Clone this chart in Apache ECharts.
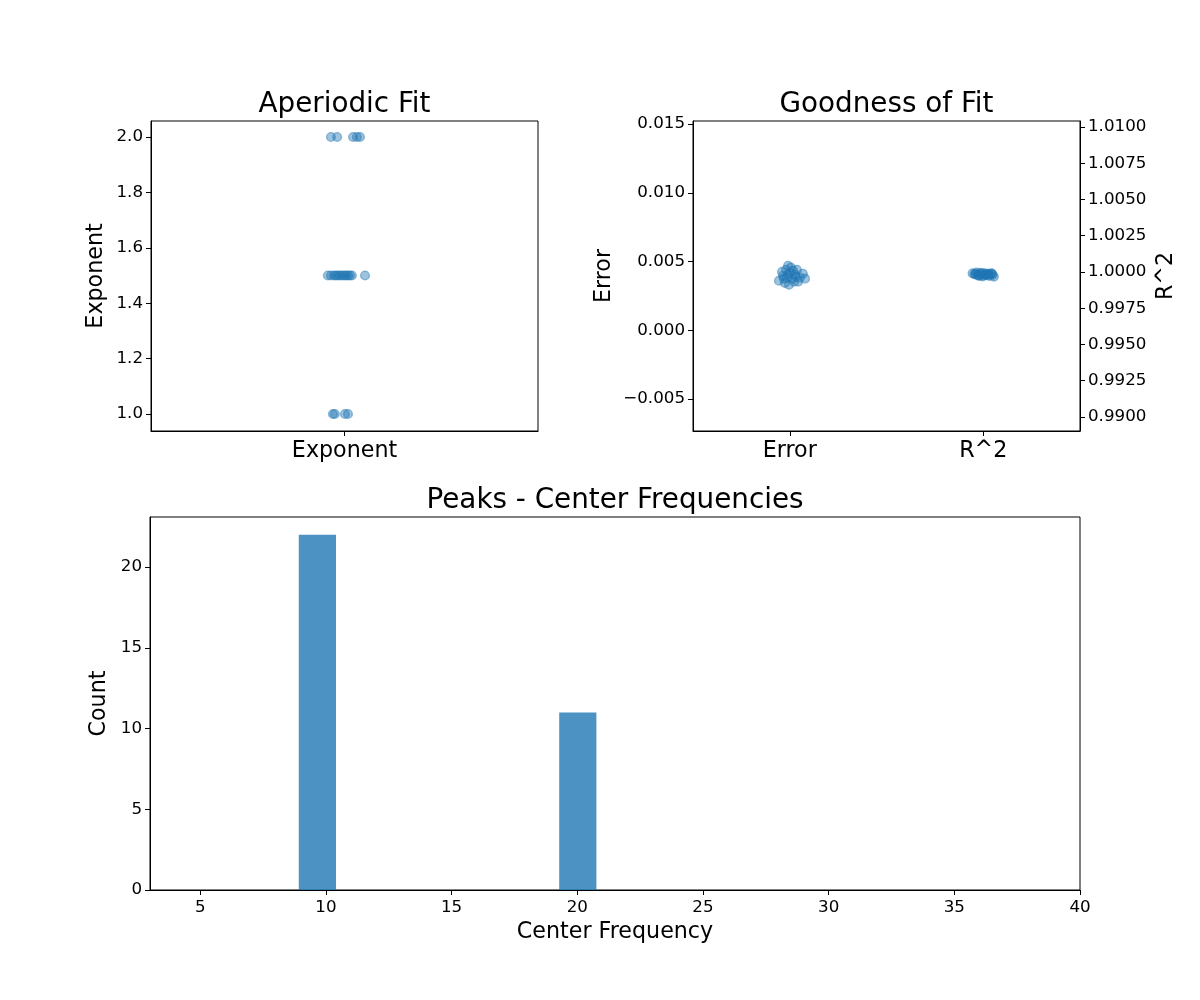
<!DOCTYPE html>
<html>
<head>
<meta charset="utf-8">
<script src="https://cdn.jsdelivr.net/npm/echarts@6/dist/echarts.min.js"></script>
<style>
html,body{margin:0;padding:0;background:#fff;}
#chart{width:1200px;height:1000px;}
</style>
</head>
<body>
<div id="chart"></div>
<script>
// ---- Data ----
// Aperiodic exponents per spectrum and horizontal jitter (category units)
const exponentValues = [2.0,2.0,2.0,2.0,2.0,
  1.5,1.5,1.5,1.5,1.5,1.5,1.5,1.5,1.5,1.5,1.5,1.5,1.5,
  1.0,1.0,1.0,1.0];
const exponentJitter = [-0.035,-0.019,0.022,0.032,0.040,
  -0.043,-0.035,-0.027,-0.022,-0.017,-0.012,-0.006,-0.001,0.004,0.009,0.014,0.019,0.053,
  -0.030,-0.025,0.001,0.009];

// Goodness of fit: error values and jitter
const errorValues = [0.00360,0.00396,0.00440,0.00469,0.00418,0.00375,0.00404,0.00440,0.00382,0.00411,0.00375,
  0.00345,0.00331,0.00382,0.00455,0.00353,0.00425,0.00353,0.00404,0.00433,0.00375,0.00389];
const errorJitter = [-0.056,-0.035,-0.019,-0.009,0.001,0.012,0.027,0.037,0.053,0.068,0.079,
  -0.025,-0.004,-0.014,0.006,0.022,-0.040,0.043,-0.009,0.017,-0.030,0.032];
// R^2 values and jitter
const r2Values = [0.99990,0.99985,0.99995,0.99980,0.99975,0.99988,0.99970,0.99992,0.99983,0.99978,0.99986,
  0.99972,0.99990,0.99980,0.99968,0.99985,0.99993,0.99977,0.99982,0.99988,0.99974,0.99987];
const r2Jitter = [-0.055,-0.045,-0.035,-0.028,-0.020,-0.012,-0.005,0.002,0.010,0.018,0.025,
  0.032,0.040,0.048,0.055,-0.040,-0.015,0.005,0.030,0.045,-0.025,0.015];

// Histogram of peak center frequencies (bin edges and counts)
const binStart = [8.92, 19.28];
const binEnd = [10.40, 20.76];
const binCounts = [22, 11];

// Tick labels
const expTicks = [1.0,1.2,1.4,1.6,1.8,2.0];
const errTicks = [-0.005,0.0,0.005,0.010,0.015];
const r2Ticks = [0.99,0.9925,0.995,0.9975,1.0,1.0025,1.005,1.0075,1.01];
const cfTicks = [5,10,15,20,25,30,35,40];
const countTicks = [0,5,10,15,20];
const gofCategories = ['Error','R^2'];

// ---- Chart ----
const FONT = 'DejaVu Sans';
const blue = 'rgba(31,119,180,0.55)';
const tickFont = 16.7, labFont = 22.2, titleFont = 27.8;

function fmtMinus(s){ return s.replace('-', '\u2212'); }

function baseAxis(extra){
  return Object.assign({
    axisLine:{show:true, onZero:false, lineStyle:{color:'#000', width:1}},
    axisTick:{show:true, length:5, inside:false, lineStyle:{color:'#000', width:1}},
    axisLabel:{color:'#000', fontFamily:FONT, fontSize:tickFont, margin:8},
    splitLine:{show:false},
    nameTextStyle:{color:'#000', fontFamily:FONT, fontSize:labFont},
    nameLocation:'middle'
  }, extra);
}

const chart = echarts.init(document.getElementById('chart'), null, {renderer:'canvas'});

const titleStyle = {fontFamily:FONT, fontSize:titleFont, fontWeight:'normal', color:'#000'};
const markStyle = {color:blue, borderColor:blue, borderWidth:1.4};

const option = {
  animation:false,
  backgroundColor:'#fff',
  title:[
    {text:'Aperiodic Fit', left:344.5, top:91, padding:0, textAlign:'center', textStyle:titleStyle},
    {text:'Goodness of Fit', left:886.5, top:91, padding:0, textAlign:'center', textStyle:titleStyle},
    {text:'Peaks - Center Frequencies', left:615, top:487, padding:0, textAlign:'center', textStyle:titleStyle}
  ],
  grid:[
    {left:151, top:121, width:387, height:310, show:true, borderColor:'#000', borderWidth:1, backgroundColor:'transparent'},
    {left:693, top:121, width:387, height:310, show:true, borderColor:'#000', borderWidth:1, backgroundColor:'transparent'},
    {left:150, top:517, width:930, height:373, show:true, borderColor:'#000', borderWidth:1, backgroundColor:'transparent'}
  ],
  xAxis:[
    baseAxis({type:'value', gridIndex:0, min:-0.5, max:0.5,
      axisTick:{show:true, length:5, customValues:[0], lineStyle:{color:'#000'}},
      axisLabel:{color:'#000', fontFamily:FONT, fontSize:labFont, margin:9, customValues:[0], formatter:()=> 'Exponent'}}),
    baseAxis({type:'value', gridIndex:1, min:-0.5, max:1.5,
      axisTick:{show:true, length:5, customValues:[0,1], lineStyle:{color:'#000'}},
      axisLabel:{color:'#000', fontFamily:FONT, fontSize:labFont, margin:9, customValues:[0,1],
        formatter:(v)=> gofCategories[Math.round(v)]}}),
    baseAxis({type:'value', gridIndex:2, min:3, max:40, name:'Center Frequency', nameGap:31,
      axisTick:{show:true, length:5, customValues:cfTicks, lineStyle:{color:'#000'}},
      axisLabel:{color:'#000', fontFamily:FONT, fontSize:tickFont, margin:9, customValues:cfTicks,
        formatter:(v)=> String(Math.round(v))}})
  ],
  yAxis:[
    baseAxis({type:'value', gridIndex:0, min:0.9386, max:2.0578, name:'Exponent', nameGap:44, nameRotate:90,
      axisTick:{show:true, length:5, customValues:expTicks, lineStyle:{color:'#000'}},
      axisLabel:{color:'#000', fontFamily:FONT, fontSize:tickFont, margin:8, customValues:expTicks,
        formatter:(v)=> v.toFixed(1)}}),
    baseAxis({type:'value', gridIndex:1, position:'left', min:-0.00733, max:0.01522, name:'Error', nameGap:78, nameRotate:90,
      axisTick:{show:true, length:5, customValues:errTicks, lineStyle:{color:'#000'}},
      axisLabel:{color:'#000', fontFamily:FONT, fontSize:tickFont, margin:8, customValues:errTicks,
        formatter:(v)=> fmtMinus((Math.abs(v)<1e-12?0:v).toFixed(3))}}),
    baseAxis({type:'value', gridIndex:1, position:'right', min:0.98903, max:1.01041, name:'R^2', nameGap:75, nameRotate:90,
      axisTick:{show:true, length:5, customValues:r2Ticks, lineStyle:{color:'#000'}},
      axisLabel:{color:'#000', fontFamily:FONT, fontSize:tickFont, margin:8, customValues:r2Ticks,
        formatter:(v)=> v.toFixed(4)}}),
    baseAxis({type:'value', gridIndex:2, min:0, max:23.1, name:'Count', nameGap:35, nameRotate:90,
      axisTick:{show:true, length:5, customValues:countTicks, lineStyle:{color:'#000'}},
      axisLabel:{color:'#000', fontFamily:FONT, fontSize:tickFont, margin:8, customValues:countTicks,
        formatter:(v)=> String(Math.round(v))}})
  ],
  series:[
    {type:'scatter', xAxisIndex:0, yAxisIndex:0, symbolSize:8.8, itemStyle:markStyle,
      data: exponentValues.map((v,i)=>[exponentJitter[i], v])},
    {type:'scatter', xAxisIndex:1, yAxisIndex:1, symbolSize:8.8, itemStyle:markStyle,
      data: errorValues.map((v,i)=>[0+errorJitter[i], v])},
    {type:'scatter', xAxisIndex:1, yAxisIndex:2, symbolSize:8.8, itemStyle:markStyle,
      data: r2Values.map((v,i)=>[1+r2Jitter[i], v])},
    {type:'custom', xAxisIndex:2, yAxisIndex:3,
      encode:{x:[0,1], y:2},
      data: binCounts.map((c,i)=>[binStart[i], binEnd[i], c]),
      renderItem:function(params, api){
        const p0 = api.coord([api.value(0), api.value(2)]);
        const p1 = api.coord([api.value(1), 0]);
        return {type:'rect', shape:{x:p0[0], y:p0[1], width:p1[0]-p0[0], height:p1[1]-p0[1]},
          style:{fill:'rgba(31,119,180,0.8)'}};
      }}
  ]
};
chart.setOption(option);
</script>
</body>
</html>
